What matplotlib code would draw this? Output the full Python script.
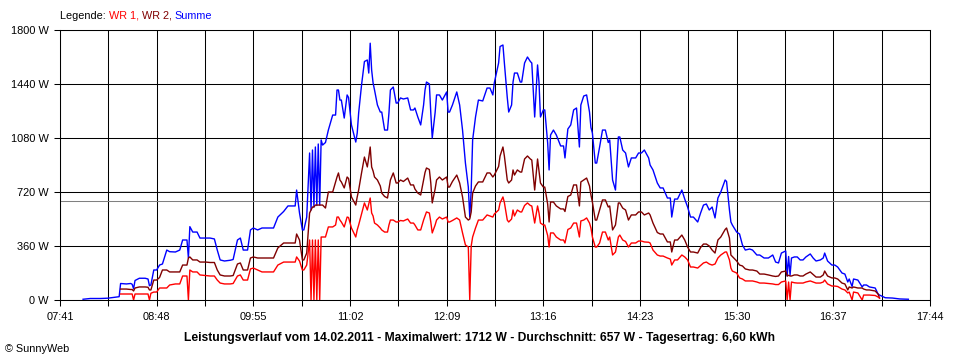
import numpy as np
import matplotlib
matplotlib.use("Agg")
import matplotlib.pyplot as plt

plt.rcParams['font.family'] = ['Liberation Sans', 'DejaVu Sans']

# Messwerte 14.02.2011 (Zeit, Summe, WR 2, WR 1) in W
zeit = ["07:57", "08:02", "08:09", "08:14", "08:19", "08:22", "08:23", "08:27", "08:30", "08:31",
        "08:32", "08:33", "08:36", "08:40", "08:42", "08:43", "08:44", "08:46", "08:48", "08:50",
        "08:52", "08:55", "08:57", "09:01", "09:04", "09:06", "09:09", "09:10", "09:11", "09:13",
        "09:16", "09:18", "09:22", "09:25", "09:28", "09:30", "09:32", "09:35", "09:39", "09:41",
        "09:44", "09:46", "09:48", "09:51", "09:53", "09:55", "09:58", "10:01", "10:05", "10:09",
        "10:12", "10:16", "10:19", "10:24", "10:25", "10:27", "10:29", "10:30", "10:32", "10:34",
        "10:35", "10:36", "10:37", "10:38", "10:39", "10:40", "10:41", "10:42", "10:43", "10:45",
        "10:47", "10:50", "10:52", "10:53", "10:54", "10:55", "10:56", "10:58", "11:00", "11:01",
        "11:03", "11:06", "11:07", "11:08", "11:10", "11:12", "11:14", "11:15", "11:16", "11:17",
        "11:18", "11:19", "11:21", "11:23", "11:24", "11:26", "11:28", "11:29", "11:30", "11:32",
        "11:34", "11:35", "11:37", "11:39", "11:42", "11:44", "11:46", "11:47", "11:49", "11:51",
        "11:53", "11:54", "11:55", "11:57", "11:58", "11:59", "12:01", "12:02", "12:04", "12:06",
        "12:09", "12:10", "12:11", "12:13", "12:16", "12:18", "12:20", "12:22", "12:24", "12:25",
        "12:26", "12:27", "12:29", "12:31", "12:34", "12:37", "12:39", "12:41", "12:42", "12:45",
        "12:46", "12:48", "12:49", "12:51", "12:52", "12:54", "12:55", "12:56", "12:58", "13:00",
        "13:01", "13:03", "13:05", "13:07", "13:08", "13:10", "13:12", "13:13", "13:14", "13:16",
        "13:17", "13:19", "13:20", "13:21", "13:23", "13:25", "13:28", "13:30", "13:31", "13:33",
        "13:35", "13:37", "13:39", "13:41", "13:42", "13:44", "13:46", "13:48", "13:49", "13:50",
        "13:52", "13:53", "13:55", "13:57", "13:59", "14:01", "14:02", "14:04", "14:06", "14:08",
        "14:09", "14:11", "14:13", "14:15", "14:17", "14:20", "14:22", "14:24", "14:26", "14:29",
        "14:30", "14:32", "14:35", "14:37", "14:39", "14:42", "14:44", "14:45", "14:47", "14:49",
        "14:52", "14:54", "14:56", "14:58", "15:00", "15:03", "15:05", "15:07", "15:09", "15:11",
        "15:13", "15:15", "15:17", "15:19", "15:22", "15:23", "15:25", "15:26", "15:27", "15:30",
        "15:32", "15:34", "15:36", "15:39", "15:41", "15:44", "15:46", "15:49", "15:52", "15:55",
        "15:57", "15:59", "16:01", "16:04", "16:05", "16:06", "16:07", "16:08", "16:10", "16:12",
        "16:14", "16:16", "16:18", "16:21", "16:23", "16:25", "16:28", "16:30", "16:31", "16:33",
        "16:36", "16:38", "16:40", "16:43", "16:45", "16:47", "16:48", "16:50", "16:51", "16:54",
        "16:57", "16:58", "17:00", "17:02", "17:06", "17:08", "17:09", "17:13", "17:18", "17:23",
        "17:29"]

summe = [5, 10, 10, 12, 18, 22, 110, 107, 110, 105,
         75, 130, 145, 145, 140, 95, 100, 200, 200, 233,
         240, 333, 322, 320, 333, 400, 400, 280, 489, 453,
         453, 413, 413, 413, 407, 333, 267, 260, 265, 270,
         400, 413, 333, 333, 467, 480, 467, 480, 480, 480,
         553, 590, 627, 627, 733, 580, 467, 467, 553, 980,
         600, 1000, 620, 1020, 630, 1040, 633, 1067, 1033, 1050,
         1133, 1233, 1233, 1400, 1400, 1333, 1333, 1213, 1367, 1350,
         1167, 1053, 1113, 1247, 1433, 1590, 1600, 1513, 1712, 1533,
         1447, 1400, 1300, 1253, 1253, 1133, 1133, 1247, 1400, 1420,
         1313, 1313, 1347, 1340, 1347, 1267, 1267, 1280, 1220, 1167,
         1300, 1400, 1453, 1440, 1247, 1080, 1250, 1367, 1367, 1333,
         1387, 1253, 1253, 1300, 1387, 1300, 1133, 913, 753, 553,
         733, 1067, 1220, 1333, 1327, 1413, 1413, 1367, 1447, 1580,
         1690, 1700, 1580, 1350, 1253, 1300, 1453, 1513, 1513, 1453,
         1453, 1580, 1620, 1590, 1580, 1220, 1567, 1450, 1220, 1267,
         1267, 1047, 867, 1100, 1133, 1100, 1027, 1027, 947, 1140,
         1167, 1267, 1280, 1020, 1300, 1360, 1367, 1253, 1150, 1113,
         913, 913, 1020, 1133, 1133, 1050, 1067, 800, 733, 1087,
         1087, 1000, 980, 887, 947, 947, 980, 980, 1000, 947,
         900, 867, 780, 747, 747, 680, 680, 553, 673, 673,
         733, 673, 620, 553, 553, 520, 580, 633, 640, 600,
         620, 547, 680, 720, 800, 790, 600, 520, 500, 453,
         440, 367, 333, 340, 333, 300, 300, 280, 280, 300,
         253, 247, 313, 327, 160, 290, 165, 280, 287, 287,
         267, 267, 287, 307, 280, 260, 267, 280, 313, 260,
         233, 233, 220, 180, 173, 120, 140, 90, 140, 133,
         87, 100, 100, 87, 80, 40, 33, 15, 13, 7,
         5]

wr2 = [None, None, None, None, None, None, 73, 73, 70, 70,
       60, 80, 87, 87, 85, 67, 67, 133, 133, 150,
       200, 200, 187, 187, 187, 233, 233, 280, 287, 267,
       267, 253, 253, 250, 250, 200, 167, 160, 160, 163,
       240, 247, 200, 200, 280, 287, 280, 280, 280, 280,
       347, 380, 380, 380, 440, 400, 267, 267, 313, 580,
       600, 620, 620, 633, 633, 633, 633, 633, 633, 613,
       720, 720, 787, 820, 847, 800, 787, 747, 820, 810,
       687, 633, 687, 733, 847, 953, 887, 950, 1020, 887,
       860, 820, 800, 760, 713, 690, 680, 740, 800, 847,
       780, 780, 800, 790, 813, 767, 767, 740, 713, 700,
       800, 850, 880, 870, 780, 647, 740, 800, 820, 800,
       820, 753, 753, 790, 833, 780, 687, 553, 533, 540,
       587, 713, 760, 787, 787, 847, 847, 820, 833, 890,
       960, 1020, 960, 800, 780, 800, 867, 833, 867, 853,
       853, 940, 960, 940, 933, 733, 940, 860, 780, 753,
       753, 640, 520, 653, 653, 627, 607, 607, 590, 690,
       700, 767, 767, 627, 787, 800, 813, 760, 700, 653,
       533, 533, 600, 667, 667, 620, 627, 467, 500, 647,
       647, 613, 600, 533, 567, 567, 587, 587, 567, 580,
       567, 513, 450, 440, 440, 387, 387, 320, 400, 400,
       433, 400, 353, 320, 320, 313, 350, 373, 373, 360,
       333, 313, 400, 420, 470, 480, 413, 300, 290, 260,
       233, 227, 207, 200, 200, 193, 173, 173, 167, 160,
       157, 160, 187, 193, 160, 165, 160, 160, 167, 167,
       160, 160, 173, 187, 170, 153, 153, 167, 193, 160,
       147, 147, 140, 113, 107, 67, 87, 80, 87, 80,
       80, 73, 67, 67, 60, 40, 13, None, None, None,
       None]

wr1 = [None, None, None, None, None, None, 40, 40, 40, 40,
       0, 40, 40, 40, 40, 0, 45, 53, 53, 80,
       80, 80, 100, 107, 107, 160, 160, 0, 200, 187,
       187, 167, 163, 160, 160, 133, 113, 107, 107, 110,
       160, 167, 133, 133, 207, 213, 200, 187, 187, 187,
       233, 253, 253, 253, 287, 260, 200, 200, 233, 400,
       0, 400, 0, 400, 0, 400, 0, 420, 420, 420,
       487, 487, 500, 553, 553, 533, 520, 487, 553, 550,
       480, 420, 467, 500, 573, 647, 600, 640, 680, 580,
       560, 513, 500, 480, 467, 453, 453, 500, 533, 533,
       520, 520, 530, 527, 540, 513, 513, 500, 467, 467,
       533, 560, 587, 580, 520, 447, 500, 533, 553, 540,
       553, 520, 520, 530, 547, 533, 447, 367, 353, 0,
       360, 420, 480, 533, 533, 567, 560, 553, 573, 600,
       647, 687, 650, 533, 520, 540, 600, 560, 600, 587,
       587, 630, 647, 630, 627, 513, 627, 580, 513, 500,
       500, 430, 353, 447, 447, 420, 400, 400, 380, 470,
       480, 513, 513, 420, 527, 533, 547, 513, 480, 420,
       353, 353, 380, 453, 453, 400, 420, 300, 320, 420,
       433, 400, 390, 353, 380, 380, 393, 393, 387, 385,
       380, 333, 300, 293, 293, 280, 273, 233, 267, 267,
       300, 287, 267, 220, 220, 213, 230, 247, 253, 240,
       233, 240, 280, 300, 320, 320, 267, 213, 193, 180,
       147, 140, 127, 127, 127, 120, 113, 113, 110, 107,
       103, 103, 120, 127, 0, 120, 0, 120, 115, 113,
       113, 113, 120, 127, 120, 113, 113, 120, 133, 107,
       93, 93, 90, 73, 67, 47, 53, 0, 53, 47,
       0, 33, 33, 33, 30, 20, 13, None, None, None,
       None]

durchschnitt = 657
x_labels = ["07:41", "08:48", "09:55", "11:02", "12:09", "13:16", "14:23", "15:30", "16:37", "17:44"]
y_werte = [0, 360, 720, 1080, 1440, 1800]

titel = ("Leistungsverlauf vom 14.02.2011 - Maximalwert: 1712 W - "
         "Durchschnitt: 657 W - Tagesertrag: 6,60 kWh")


def minuten(s):
    h, m = s.split(":")
    return int(h) * 60 + int(m)


t = np.array([minuten(z) for z in zeit], dtype=float)
summe = np.array(summe, dtype=float)
wr2 = np.array(wr2, dtype=float)
wr1 = np.array(wr1, dtype=float)

major = [minuten(z) for z in x_labels]
alle_ticks = []
for a, b in zip(major[:-1], major[1:]):
    alle_ticks += [a, (a + b) / 2]
alle_ticks.append(major[-1])

fig = plt.figure(figsize=(9.6, 3.6), dpi=100)
ax = fig.add_axes([60 / 960, 60 / 360, 870 / 960, 270 / 360])

ax.set_xlim(major[0], major[-1])
ax.set_ylim(0, 1800)

for v in alle_ticks:
    ax.axvline(v, color='black', lw=0.75, zorder=1)
for v in y_werte:
    ax.axhline(v, color='black', lw=0.75, zorder=1)
ax.axhline(durchschnitt, color='#808080', lw=0.75, zorder=2)

ax.plot(t, summe, color='#0000ff', lw=1.0, zorder=3)
ax.plot(t, wr2, color='#800000', lw=1.0, zorder=4)
ax.plot(t, wr1, color='#ff0000', lw=1.0, zorder=5)

ax.set_xticks(alle_ticks)
ax.set_xticklabels([x_labels[i // 2] if i % 2 == 0 else "" for i in range(len(alle_ticks))])
ax.set_yticks(y_werte)
ax.set_yticklabels([f"{v} W" for v in y_werte])
ax.tick_params(axis='both', direction='out', length=4, width=0.75, color='black',
               labelsize=7.9, labelcolor='black')
ax.tick_params(axis='y', pad=4)
ax.tick_params(axis='x', pad=5)
for s in ax.spines.values():
    s.set_linewidth(0.75)
    s.set_color('black')

# Legende oben
fs = 7.8
txt = fig.text(60 / 960, 1 - 16 / 360, "Legende: ", fontsize=fs, va='center', color='black')
for teil, farbe in [("WR 1, ", '#ff0000'), ("WR 2, ", '#800000'), ("Summe", '#0000ff')]:
    txt = ax.annotate(teil, xy=(1, 0.5), xycoords=txt, va='center', ha='left',
                      fontsize=fs, color=farbe, annotation_clip=False)

fig.text(480 / 960, 1 - 338 / 360, titel, fontsize=8.7, fontweight='bold', ha='center', va='center')
fig.text(5 / 960, 1 - 349 / 360, "© SunnyWeb", fontsize=fs, ha='left', va='center')

fig.savefig("out.png", dpi=100, facecolor='white')
